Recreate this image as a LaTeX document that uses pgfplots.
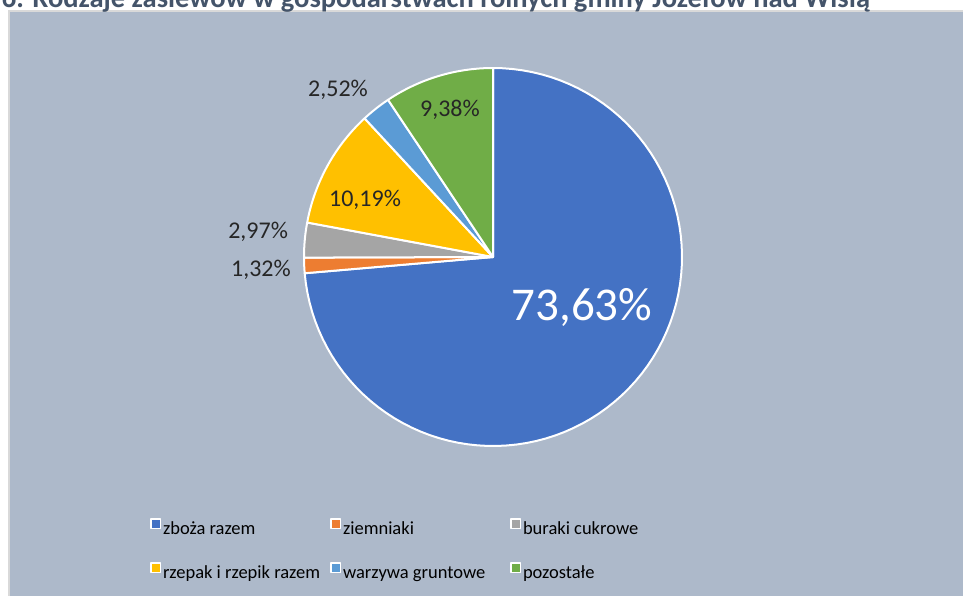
\documentclass[border=0pt]{standalone}
\usepackage{fontspec}
\setmainfont{Carlito}
\usepackage{pgfplots}
\pgfplotsset{compat=1.18}

\definecolor{bgc}{HTML}{ADB9CA}
\definecolor{framec}{HTML}{D9D9D9}
\definecolor{titlec}{HTML}{44546A}
\definecolor{cA}{HTML}{4472C4}
\definecolor{cB}{HTML}{ED7D31}
\definecolor{cC}{HTML}{A5A5A5}
\definecolor{cD}{HTML}{FFC000}
\definecolor{cE}{HTML}{5B9BD5}
\definecolor{cF}{HTML}{70AD47}

% udzialy w procentach
\pgfmathsetmacro\aA{90}
\pgfmathsetmacro\aB{\aA-3.6*73.63}
\pgfmathsetmacro\aC{\aB-3.6*1.32}
\pgfmathsetmacro\aD{\aC-3.6*2.97}
\pgfmathsetmacro\aE{\aD-3.6*10.19}
\pgfmathsetmacro\aF{\aE-3.6*2.52}
\pgfmathsetmacro\aG{-270}

\begin{document}
\begin{tikzpicture}
\useasboundingbox (0bp,0bp) rectangle (963bp,-596bp);
\fill[white] (0bp,0bp) rectangle (963bp,-596bp);
\draw[fill=bgc, draw=framec, line width=1.5bp] (9.2bp,-11bp) rectangle (990bp,-620bp);
\node[anchor=base, text=titlec, font=\fontsize{28.5bp}{32bp}\selectfont\bfseries, inner sep=0pt]
  at (436bp,-7bp) {6. Rodzaje zasiewów w gospodarstwach rolnych gminy Józefów nad Wisłą};

\begin{axis}[
  at={(493bp,-257bp)}, anchor=center,
  scale only axis, width=378bp, height=378bp,
  xmin=-1, xmax=1, ymin=-1, ymax=1,
  hide axis, clip=false,
  every axis plot/.append style={draw=white, line width=2bp, line join=round, samples=90},
  legend columns=3,
  legend image code/.code={\draw[#1, line width=1.5bp] (0bp,1.3bp) rectangle (9.5bp,10.8bp);},
  legend style={
    font=\fontsize{18.5bp}{22bp}\selectfont,
    draw=none, fill=none, inner sep=0pt, outer sep=0pt,
    at={(axis description cs:-0.4074,-0.1905)}, anchor=north west,
    row sep=21bp,
    nodes={inner sep=2bp, text height=14bp, text depth=5bp},
    /tikz/every even column/.append style={column sep=0bp},
  },
]
\addplot[fill=cA, domain=\aB:\aA] ({cos(x)},{sin(x)}) -- (axis cs:0,0) -- cycle;
\addlegendentry{\makebox[165bp][l]{zboża razem}}
\addplot[fill=cB, domain=\aC:\aB] ({cos(x)},{sin(x)}) -- (axis cs:0,0) -- cycle;
\addlegendentry{\makebox[165bp][l]{ziemniaki}}
\addplot[fill=cC, domain=\aD:\aC] ({cos(x)},{sin(x)}) -- (axis cs:0,0) -- cycle;
\addlegendentry{\makebox[165bp][l]{buraki cukrowe}}
\addplot[fill=cD, domain=\aE:\aD] ({cos(x)},{sin(x)}) -- (axis cs:0,0) -- cycle;
\addlegendentry{\makebox[165bp][l]{rzepak i rzepik razem}}
\addplot[fill=cE, domain=\aF:\aE] ({cos(x)},{sin(x)}) -- (axis cs:0,0) -- cycle;
\addlegendentry{\makebox[165bp][l]{warzywa gruntowe}}
\addplot[fill=cF, domain=\aG:\aF] ({cos(x)},{sin(x)}) -- (axis cs:0,0) -- cycle;
\addlegendentry{\makebox[165bp][l]{pozostałe}}

\node[text=white, font=\fontsize{47bp}{52bp}\selectfont] at (axis cs:0.471,-0.265) {73,63\%};
\begin{scope}[every node/.style={text=black!85, font=\fontsize{24bp}{28bp}\selectfont}]
\node at (axis cs:-0.677,0.302) {10,19\%};
\node at (axis cs:-0.228,0.778) {9,38\%};
\node at (axis cs:-0.820,0.884) {2,52\%};
\node at (axis cs:-1.243,0.132) {2,97\%};
\node at (axis cs:-1.228,-0.069) {1,32\%};
\end{scope}
\end{axis}
\end{tikzpicture}
\end{document}
